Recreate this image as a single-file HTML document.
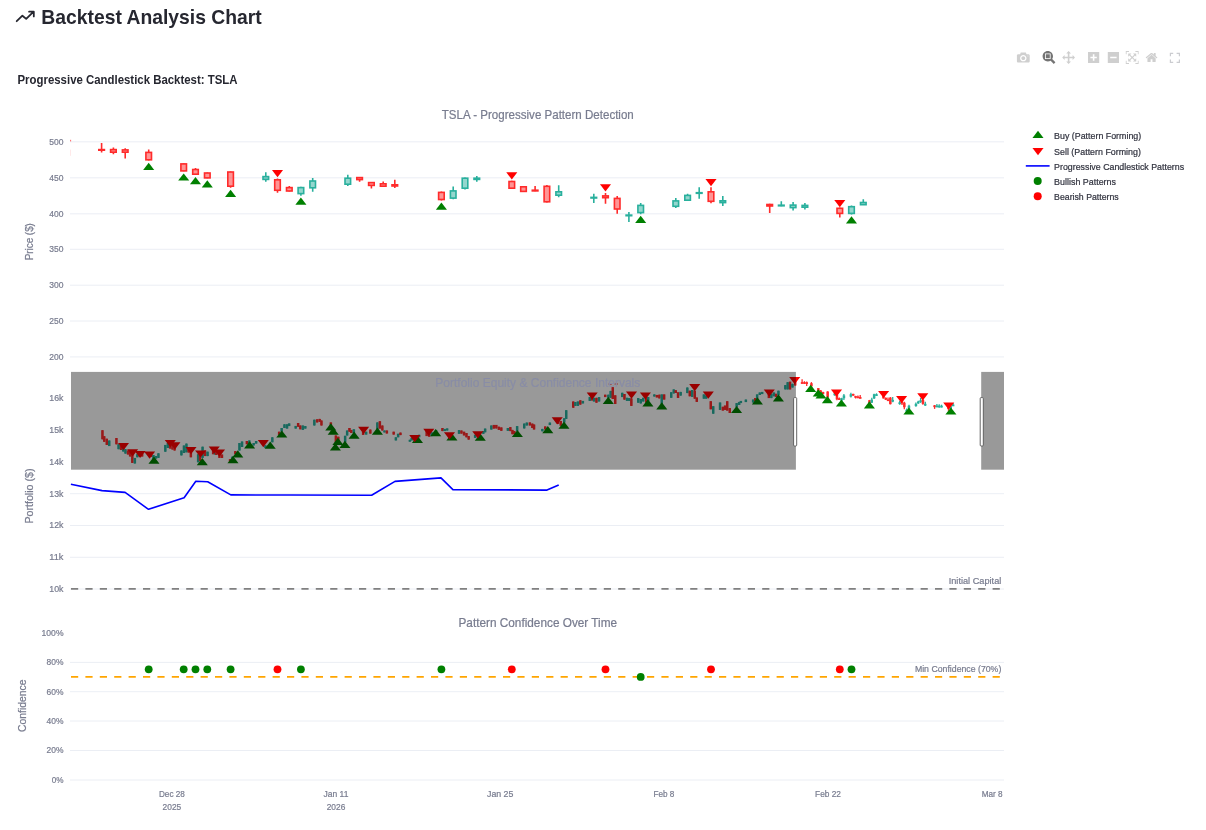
<!DOCTYPE html>
<html lang="en"><head><meta charset="utf-8"><title>Backtest Analysis Chart</title>
<style>html,body{margin:0;padding:0;background:#fff}body{width:1206px;height:830px;overflow:hidden}svg{display:block}</style>
</head><body>
<svg width="1206" height="830" viewBox="0 0 1206 830" font-family='"Liberation Sans", sans-serif'>
<rect width="1206" height="830" fill="#fff"/>
<path d="M16.7,21.2L22.4,15.7L26.2,18.9L33.3,11.9M29.1,11.7H33.8V16.4" fill="none" stroke="#262730" stroke-width="1.8" stroke-linecap="round" stroke-linejoin="round"/>
<text x="41.3" y="23.7" font-size="21" fill="#262730" textLength="220.5" lengthAdjust="spacingAndGlyphs" font-weight="bold">Backtest Analysis Chart</text>
<text x="17.5" y="83.9" font-size="12.2" fill="#262730" textLength="220" lengthAdjust="spacingAndGlyphs" font-weight="bold">Progressive Candlestick Backtest: TSLA</text>
<path d="M70.0,141.80H1004.0" stroke="#e6eaf1" stroke-width="0.8"/>
<path d="M70.0,177.80H1004.0" stroke="#e6eaf1" stroke-width="0.8"/>
<path d="M70.0,213.80H1004.0" stroke="#e6eaf1" stroke-width="0.8"/>
<path d="M70.0,249.30H1004.0" stroke="#e6eaf1" stroke-width="0.8"/>
<path d="M70.0,285.20H1004.0" stroke="#e6eaf1" stroke-width="0.8"/>
<path d="M70.0,321.00H1004.0" stroke="#e6eaf1" stroke-width="0.8"/>
<path d="M70.0,356.90H1004.0" stroke="#e6eaf1" stroke-width="0.8"/>
<path d="M70.0,493.70H1004.0" stroke="#e6eaf1" stroke-width="0.8"/>
<path d="M70.0,525.50H1004.0" stroke="#e6eaf1" stroke-width="0.8"/>
<path d="M70.0,557.30H1004.0" stroke="#e6eaf1" stroke-width="0.8"/>
<path d="M70.0,589.00H1004.0" stroke="#e6eaf1" stroke-width="0.8"/>
<path d="M70.0,662.40H1004.0" stroke="#e6eaf1" stroke-width="0.8"/>
<path d="M70.0,691.70H1004.0" stroke="#e6eaf1" stroke-width="0.8"/>
<path d="M70.0,721.00H1004.0" stroke="#e6eaf1" stroke-width="0.8"/>
<path d="M70.0,750.50H1004.0" stroke="#e6eaf1" stroke-width="0.8"/>
<path d="M70.0,780.00H1004.0" stroke="#e6eaf1" stroke-width="0.8"/>
<text x="63.5" y="144.6" font-size="9.3" fill="#787c8f" stroke="#787c8f" stroke-width="0.22" text-anchor="end" textLength="14.2" lengthAdjust="spacingAndGlyphs">500</text>
<text x="63.5" y="180.6" font-size="9.3" fill="#787c8f" stroke="#787c8f" stroke-width="0.22" text-anchor="end" textLength="14.2" lengthAdjust="spacingAndGlyphs">450</text>
<text x="63.5" y="216.6" font-size="9.3" fill="#787c8f" stroke="#787c8f" stroke-width="0.22" text-anchor="end" textLength="14.2" lengthAdjust="spacingAndGlyphs">400</text>
<text x="63.5" y="252.1" font-size="9.3" fill="#787c8f" stroke="#787c8f" stroke-width="0.22" text-anchor="end" textLength="14.2" lengthAdjust="spacingAndGlyphs">350</text>
<text x="63.5" y="288.0" font-size="9.3" fill="#787c8f" stroke="#787c8f" stroke-width="0.22" text-anchor="end" textLength="14.2" lengthAdjust="spacingAndGlyphs">300</text>
<text x="63.5" y="323.8" font-size="9.3" fill="#787c8f" stroke="#787c8f" stroke-width="0.22" text-anchor="end" textLength="14.2" lengthAdjust="spacingAndGlyphs">250</text>
<text x="63.5" y="359.7" font-size="9.3" fill="#787c8f" stroke="#787c8f" stroke-width="0.22" text-anchor="end" textLength="14.2" lengthAdjust="spacingAndGlyphs">200</text>
<text x="63.5" y="400.9" font-size="9.3" fill="#787c8f" stroke="#787c8f" stroke-width="0.22" text-anchor="end" textLength="14.2" lengthAdjust="spacingAndGlyphs">16k</text>
<text x="63.5" y="432.7" font-size="9.3" fill="#787c8f" stroke="#787c8f" stroke-width="0.22" text-anchor="end" textLength="14.2" lengthAdjust="spacingAndGlyphs">15k</text>
<text x="63.5" y="464.5" font-size="9.3" fill="#787c8f" stroke="#787c8f" stroke-width="0.22" text-anchor="end" textLength="14.2" lengthAdjust="spacingAndGlyphs">14k</text>
<text x="63.5" y="496.5" font-size="9.3" fill="#787c8f" stroke="#787c8f" stroke-width="0.22" text-anchor="end" textLength="14.2" lengthAdjust="spacingAndGlyphs">13k</text>
<text x="63.5" y="528.3" font-size="9.3" fill="#787c8f" stroke="#787c8f" stroke-width="0.22" text-anchor="end" textLength="14.2" lengthAdjust="spacingAndGlyphs">12k</text>
<text x="63.5" y="560.1" font-size="9.3" fill="#787c8f" stroke="#787c8f" stroke-width="0.22" text-anchor="end" textLength="14.2" lengthAdjust="spacingAndGlyphs">11k</text>
<text x="63.5" y="591.8" font-size="9.3" fill="#787c8f" stroke="#787c8f" stroke-width="0.22" text-anchor="end" textLength="14.2" lengthAdjust="spacingAndGlyphs">10k</text>
<text x="63.5" y="635.9" font-size="9.3" fill="#787c8f" stroke="#787c8f" stroke-width="0.22" text-anchor="end" textLength="21.9" lengthAdjust="spacingAndGlyphs">100%</text>
<text x="63.5" y="665.2" font-size="9.3" fill="#787c8f" stroke="#787c8f" stroke-width="0.22" text-anchor="end" textLength="16.9" lengthAdjust="spacingAndGlyphs">80%</text>
<text x="63.5" y="694.5" font-size="9.3" fill="#787c8f" stroke="#787c8f" stroke-width="0.22" text-anchor="end" textLength="16.9" lengthAdjust="spacingAndGlyphs">60%</text>
<text x="63.5" y="723.8" font-size="9.3" fill="#787c8f" stroke="#787c8f" stroke-width="0.22" text-anchor="end" textLength="16.9" lengthAdjust="spacingAndGlyphs">40%</text>
<text x="63.5" y="753.3" font-size="9.3" fill="#787c8f" stroke="#787c8f" stroke-width="0.22" text-anchor="end" textLength="16.9" lengthAdjust="spacingAndGlyphs">20%</text>
<text x="63.5" y="782.8" font-size="9.3" fill="#787c8f" stroke="#787c8f" stroke-width="0.22" text-anchor="end" textLength="11.8" lengthAdjust="spacingAndGlyphs">0%</text>
<text x="171.9" y="797.0" font-size="9.3" fill="#787c8f" stroke="#787c8f" stroke-width="0.22" text-anchor="middle" textLength="25.9" lengthAdjust="spacingAndGlyphs">Dec 28</text>
<text x="171.9" y="809.6" font-size="9.3" fill="#787c8f" stroke="#787c8f" stroke-width="0.22" text-anchor="middle" textLength="18.6" lengthAdjust="spacingAndGlyphs">2025</text>
<text x="336.0" y="797.0" font-size="9.3" fill="#787c8f" stroke="#787c8f" stroke-width="0.22" text-anchor="middle" textLength="24.9" lengthAdjust="spacingAndGlyphs">Jan 11</text>
<text x="336.0" y="809.6" font-size="9.3" fill="#787c8f" stroke="#787c8f" stroke-width="0.22" text-anchor="middle" textLength="18.6" lengthAdjust="spacingAndGlyphs">2026</text>
<text x="500.2" y="797.0" font-size="9.3" fill="#787c8f" stroke="#787c8f" stroke-width="0.22" text-anchor="middle" textLength="26.4" lengthAdjust="spacingAndGlyphs">Jan 25</text>
<text x="663.9" y="797.0" font-size="9.3" fill="#787c8f" stroke="#787c8f" stroke-width="0.22" text-anchor="middle" textLength="21.0" lengthAdjust="spacingAndGlyphs">Feb 8</text>
<text x="828.0" y="797.0" font-size="9.3" fill="#787c8f" stroke="#787c8f" stroke-width="0.22" text-anchor="middle" textLength="25.9" lengthAdjust="spacingAndGlyphs">Feb 22</text>
<text x="992.2" y="797.0" font-size="9.3" fill="#787c8f" stroke="#787c8f" stroke-width="0.22" text-anchor="middle" textLength="20.9" lengthAdjust="spacingAndGlyphs">Mar 8</text>
<text x="33.2" y="241.7" font-size="10.8" fill="#787c8f" stroke="#787c8f" stroke-width="0.22" text-anchor="middle" textLength="37.2" lengthAdjust="spacingAndGlyphs" transform="rotate(-90 33.2 241.7)">Price ($)</text>
<text x="33.2" y="496.0" font-size="10.8" fill="#787c8f" stroke="#787c8f" stroke-width="0.22" text-anchor="middle" textLength="55" lengthAdjust="spacingAndGlyphs" transform="rotate(-90 33.2 496.0)">Portfolio ($)</text>
<text x="25.6" y="705.8" font-size="10.8" fill="#787c8f" stroke="#787c8f" stroke-width="0.22" text-anchor="middle" textLength="52.4" lengthAdjust="spacingAndGlyphs" transform="rotate(-90 25.6 705.8)">Confidence</text>
<text x="441.8" y="118.6" font-size="12.2" fill="#787c8f" stroke="#787c8f" stroke-width="0.22" textLength="192" lengthAdjust="spacingAndGlyphs">TSLA - Progressive Pattern Detection</text>
<text x="458.5" y="627.0" font-size="12.2" fill="#787c8f" stroke="#787c8f" stroke-width="0.22" textLength="158.6" lengthAdjust="spacingAndGlyphs">Pattern Confidence Over Time</text>
<g>
<rect x="70.2" y="139.8" width="0.9" height="1.6" fill="#FF2B2B" opacity="0.8"/><rect x="70.2" y="149.6" width="0.7" height="6.2" fill="#FF2B2B" opacity="0.15"/>
<path d="M101.60,142.90V149.60M101.60,150.20V152.50" stroke="#FF2B2B" stroke-width="1.6"/><rect x="98.80" y="149.60" width="5.60" height="0.60" fill="#FF2B2B" fill-opacity="0.5" stroke="#FF2B2B" stroke-width="1.6"/>
<path d="M113.40,147.60V149.60M113.40,152.20V154.20" stroke="#FF2B2B" stroke-width="1.6"/><rect x="110.60" y="149.60" width="5.60" height="2.60" fill="#FF2B2B" fill-opacity="0.5" stroke="#FF2B2B" stroke-width="1.6"/>
<path d="M125.20,148.20V149.90M125.20,152.20V158.60" stroke="#FF2B2B" stroke-width="1.6"/><rect x="122.40" y="149.90" width="5.60" height="2.30" fill="#FF2B2B" fill-opacity="0.5" stroke="#FF2B2B" stroke-width="1.6"/>
<path d="M148.70,149.60V152.40M148.70,159.80V160.60" stroke="#FF2B2B" stroke-width="1.6"/><rect x="145.90" y="152.40" width="5.60" height="7.40" fill="#FF2B2B" fill-opacity="0.5" stroke="#FF2B2B" stroke-width="1.6"/>
<path d="M183.70,163.40V163.90M183.70,170.90V171.30" stroke="#FF2B2B" stroke-width="1.6"/><rect x="180.90" y="163.90" width="5.60" height="7.00" fill="#FF2B2B" fill-opacity="0.5" stroke="#FF2B2B" stroke-width="1.6"/>
<path d="M195.50,168.10V169.50M195.50,174.20V174.60" stroke="#FF2B2B" stroke-width="1.6"/><rect x="192.70" y="169.50" width="5.60" height="4.70" fill="#FF2B2B" fill-opacity="0.5" stroke="#FF2B2B" stroke-width="1.6"/>
<path d="M207.30,172.40V173.00M207.30,177.90V178.30" stroke="#FF2B2B" stroke-width="1.6"/><rect x="204.50" y="173.00" width="5.60" height="4.90" fill="#FF2B2B" fill-opacity="0.5" stroke="#FF2B2B" stroke-width="1.6"/>
<path d="M230.60,171.40V172.00M230.60,186.20V187.70" stroke="#FF2B2B" stroke-width="1.6"/><rect x="227.80" y="172.00" width="5.60" height="14.20" fill="#FF2B2B" fill-opacity="0.5" stroke="#FF2B2B" stroke-width="1.6"/>
<path d="M265.80,172.30V176.60M265.80,179.40V181.70" stroke="#29B09D" stroke-width="1.6"/><rect x="263.00" y="176.60" width="5.60" height="2.80" fill="#29B09D" fill-opacity="0.5" stroke="#29B09D" stroke-width="1.6"/>
<path d="M277.50,178.40V179.80M277.50,190.30V192.70" stroke="#FF2B2B" stroke-width="1.6"/><rect x="274.70" y="179.80" width="5.60" height="10.50" fill="#FF2B2B" fill-opacity="0.5" stroke="#FF2B2B" stroke-width="1.6"/>
<path d="M289.30,186.00V187.60M289.30,191.00V191.40" stroke="#FF2B2B" stroke-width="1.6"/><rect x="286.50" y="187.60" width="5.60" height="3.40" fill="#FF2B2B" fill-opacity="0.5" stroke="#FF2B2B" stroke-width="1.6"/>
<path d="M300.90,186.80V187.60M300.90,193.60V195.80" stroke="#29B09D" stroke-width="1.6"/><rect x="298.10" y="187.60" width="5.60" height="6.00" fill="#29B09D" fill-opacity="0.5" stroke="#29B09D" stroke-width="1.6"/>
<path d="M312.70,178.10V181.00M312.70,187.80V191.70" stroke="#29B09D" stroke-width="1.6"/><rect x="309.90" y="181.00" width="5.60" height="6.80" fill="#29B09D" fill-opacity="0.5" stroke="#29B09D" stroke-width="1.6"/>
<path d="M347.80,174.80V178.20M347.80,184.20V186.00" stroke="#29B09D" stroke-width="1.6"/><rect x="345.00" y="178.20" width="5.60" height="6.00" fill="#29B09D" fill-opacity="0.5" stroke="#29B09D" stroke-width="1.6"/>
<path d="M359.60,177.00V177.60M359.60,179.60V181.70" stroke="#FF2B2B" stroke-width="1.6"/><rect x="356.80" y="177.60" width="5.60" height="2.00" fill="#FF2B2B" fill-opacity="0.5" stroke="#FF2B2B" stroke-width="1.6"/>
<path d="M371.40,182.00V182.60M371.40,185.40V188.50" stroke="#FF2B2B" stroke-width="1.6"/><rect x="368.60" y="182.60" width="5.60" height="2.80" fill="#FF2B2B" fill-opacity="0.5" stroke="#FF2B2B" stroke-width="1.6"/>
<path d="M383.20,181.40V183.80M383.20,186.20V186.60" stroke="#FF2B2B" stroke-width="1.6"/><rect x="380.40" y="183.80" width="5.60" height="2.40" fill="#FF2B2B" fill-opacity="0.5" stroke="#FF2B2B" stroke-width="1.6"/>
<path d="M394.80,179.80V184.80M394.80,186.00V188.00" stroke="#FF2B2B" stroke-width="1.6"/><rect x="392.00" y="184.80" width="5.60" height="1.20" fill="#FF2B2B" fill-opacity="0.5" stroke="#FF2B2B" stroke-width="1.6"/>
<path d="M441.40,191.60V192.40M441.40,199.50V200.40" stroke="#FF2B2B" stroke-width="1.6"/><rect x="438.60" y="192.40" width="5.60" height="7.10" fill="#FF2B2B" fill-opacity="0.5" stroke="#FF2B2B" stroke-width="1.6"/>
<path d="M453.20,186.40V190.90M453.20,198.10V199.20" stroke="#29B09D" stroke-width="1.6"/><rect x="450.40" y="190.90" width="5.60" height="7.20" fill="#29B09D" fill-opacity="0.5" stroke="#29B09D" stroke-width="1.6"/>
<path d="M465.00,177.40V178.20M465.00,188.20V189.40" stroke="#29B09D" stroke-width="1.6"/><rect x="462.20" y="178.20" width="5.60" height="10.00" fill="#29B09D" fill-opacity="0.5" stroke="#29B09D" stroke-width="1.6"/>
<path d="M476.80,176.10V178.20M476.80,179.40V181.70" stroke="#29B09D" stroke-width="1.6"/><rect x="474.00" y="178.20" width="5.60" height="1.20" fill="#29B09D" fill-opacity="0.5" stroke="#29B09D" stroke-width="1.6"/>
<path d="M511.80,180.70V181.50M511.80,188.20V188.60" stroke="#FF2B2B" stroke-width="1.6"/><rect x="509.00" y="181.50" width="5.60" height="6.70" fill="#FF2B2B" fill-opacity="0.5" stroke="#FF2B2B" stroke-width="1.6"/>
<path d="M523.50,186.00V186.80M523.50,191.40V191.80" stroke="#FF2B2B" stroke-width="1.6"/><rect x="520.70" y="186.80" width="5.60" height="4.60" fill="#FF2B2B" fill-opacity="0.5" stroke="#FF2B2B" stroke-width="1.6"/>
<path d="M535.10,186.10V190.20M535.10,190.90V191.30" stroke="#FF2B2B" stroke-width="1.6"/><rect x="532.30" y="190.20" width="5.60" height="0.70" fill="#FF2B2B" fill-opacity="0.5" stroke="#FF2B2B" stroke-width="1.6"/>
<path d="M546.90,185.00V186.30M546.90,201.80V202.40" stroke="#FF2B2B" stroke-width="1.6"/><rect x="544.10" y="186.30" width="5.60" height="15.50" fill="#FF2B2B" fill-opacity="0.5" stroke="#FF2B2B" stroke-width="1.6"/>
<path d="M558.70,185.20V191.80M558.70,195.20V197.20" stroke="#29B09D" stroke-width="1.6"/><rect x="555.90" y="191.80" width="5.60" height="3.40" fill="#29B09D" fill-opacity="0.5" stroke="#29B09D" stroke-width="1.6"/>
<path d="M593.80,193.80V197.40M593.80,198.00V203.00" stroke="#29B09D" stroke-width="1.6"/><rect x="591.00" y="197.40" width="5.60" height="0.60" fill="#29B09D" fill-opacity="0.5" stroke="#29B09D" stroke-width="1.6"/>
<path d="M605.50,193.00V195.90M605.50,197.70V203.80" stroke="#FF2B2B" stroke-width="1.6"/><rect x="602.70" y="195.90" width="5.60" height="1.80" fill="#FF2B2B" fill-opacity="0.5" stroke="#FF2B2B" stroke-width="1.6"/>
<path d="M617.20,196.00V198.40M617.20,209.00V213.70" stroke="#FF2B2B" stroke-width="1.6"/><rect x="614.40" y="198.40" width="5.60" height="10.60" fill="#FF2B2B" fill-opacity="0.5" stroke="#FF2B2B" stroke-width="1.6"/>
<path d="M628.90,212.10V215.10M628.90,215.70V222.00" stroke="#29B09D" stroke-width="1.6"/><rect x="626.10" y="215.10" width="5.60" height="0.60" fill="#29B09D" fill-opacity="0.5" stroke="#29B09D" stroke-width="1.6"/>
<path d="M640.70,203.00V205.40M640.70,212.60V214.20" stroke="#29B09D" stroke-width="1.6"/><rect x="637.90" y="205.40" width="5.60" height="7.20" fill="#29B09D" fill-opacity="0.5" stroke="#29B09D" stroke-width="1.6"/>
<path d="M675.80,198.00V200.90M675.80,206.30V208.00" stroke="#29B09D" stroke-width="1.6"/><rect x="673.00" y="200.90" width="5.60" height="5.40" fill="#29B09D" fill-opacity="0.5" stroke="#29B09D" stroke-width="1.6"/>
<path d="M687.60,193.80V195.40M687.60,200.20V200.60" stroke="#29B09D" stroke-width="1.6"/><rect x="684.80" y="195.40" width="5.60" height="4.80" fill="#29B09D" fill-opacity="0.5" stroke="#29B09D" stroke-width="1.6"/>
<path d="M699.20,187.20V192.70M699.20,193.30V198.80" stroke="#29B09D" stroke-width="1.6"/><rect x="696.40" y="192.70" width="5.60" height="0.60" fill="#29B09D" fill-opacity="0.5" stroke="#29B09D" stroke-width="1.6"/>
<path d="M711.00,187.20V191.80M711.00,201.30V203.30" stroke="#FF2B2B" stroke-width="1.6"/><rect x="708.20" y="191.80" width="5.60" height="9.50" fill="#FF2B2B" fill-opacity="0.5" stroke="#FF2B2B" stroke-width="1.6"/>
<path d="M722.80,196.00V200.80M722.80,202.60V206.00" stroke="#29B09D" stroke-width="1.6"/><rect x="720.00" y="200.80" width="5.60" height="1.80" fill="#29B09D" fill-opacity="0.5" stroke="#29B09D" stroke-width="1.6"/>
<path d="M769.70,203.80V204.50M769.70,206.00V212.90" stroke="#FF2B2B" stroke-width="1.6"/><rect x="766.90" y="204.50" width="5.60" height="1.50" fill="#FF2B2B" fill-opacity="0.5" stroke="#FF2B2B" stroke-width="1.6"/>
<path d="M781.30,201.30V205.20M781.30,205.80V206.20" stroke="#29B09D" stroke-width="1.6"/><rect x="778.50" y="205.20" width="5.60" height="0.60" fill="#29B09D" fill-opacity="0.5" stroke="#29B09D" stroke-width="1.6"/>
<path d="M793.10,202.10V205.10M793.10,207.60V210.40" stroke="#29B09D" stroke-width="1.6"/><rect x="790.30" y="205.10" width="5.60" height="2.50" fill="#29B09D" fill-opacity="0.5" stroke="#29B09D" stroke-width="1.6"/>
<path d="M804.90,203.00V205.40M804.90,207.20V209.60" stroke="#29B09D" stroke-width="1.6"/><rect x="802.10" y="205.40" width="5.60" height="1.80" fill="#29B09D" fill-opacity="0.5" stroke="#29B09D" stroke-width="1.6"/>
<path d="M839.80,207.50V208.30M839.80,213.40V217.60" stroke="#FF2B2B" stroke-width="1.6"/><rect x="837.00" y="208.30" width="5.60" height="5.10" fill="#FF2B2B" fill-opacity="0.5" stroke="#FF2B2B" stroke-width="1.6"/>
<path d="M851.50,205.40V206.70M851.50,213.40V214.60" stroke="#29B09D" stroke-width="1.6"/><rect x="848.70" y="206.70" width="5.60" height="6.70" fill="#29B09D" fill-opacity="0.5" stroke="#29B09D" stroke-width="1.6"/>
<path d="M863.30,199.30V202.50M863.30,204.70V205.10" stroke="#29B09D" stroke-width="1.6"/><rect x="860.50" y="202.50" width="5.60" height="2.20" fill="#29B09D" fill-opacity="0.5" stroke="#29B09D" stroke-width="1.6"/>
<path d="M143.16,170.00H154.24L148.70,162.80Z" fill="#008000"/>
<path d="M178.16,180.60H189.24L183.70,173.40Z" fill="#008000"/>
<path d="M189.96,184.20H201.04L195.50,177.00Z" fill="#008000"/>
<path d="M201.76,187.40H212.84L207.30,180.20Z" fill="#008000"/>
<path d="M225.06,196.90H236.14L230.60,189.70Z" fill="#008000"/>
<path d="M295.36,204.70H306.44L300.90,197.50Z" fill="#008000"/>
<path d="M435.86,209.80H446.94L441.40,202.60Z" fill="#008000"/>
<path d="M635.16,222.90H646.24L640.70,215.70Z" fill="#008000"/>
<path d="M845.96,223.40H857.04L851.50,216.20Z" fill="#008000"/>
<path d="M271.96,170.00H283.04L277.50,177.20Z" fill="#FF0000"/>
<path d="M506.26,172.30H517.34L511.80,179.50Z" fill="#FF0000"/>
<path d="M599.96,184.20H611.04L605.50,191.40Z" fill="#FF0000"/>
<path d="M705.46,179.10H716.54L711.00,186.30Z" fill="#FF0000"/>
<path d="M834.26,200.00H845.34L839.80,207.20Z" fill="#FF0000"/>
</g>
<rect x="71.0" y="371.9" width="933.0" height="97.8" fill="#fff"/>
<g>
<path d="M102.5,430.2V439.3" stroke="#FF2B2B" stroke-width="1.3"/><rect x="101.2" y="430.2" width="2.5" height="9.1" fill="#FF2B2B"/>
<path d="M104.3,436.2V441.8" stroke="#FF2B2B" stroke-width="1.3"/><rect x="103.0" y="436.2" width="2.5" height="5.6" fill="#FF2B2B"/>
<path d="M106.8,438.7V444.9" stroke="#FF2B2B" stroke-width="1.3"/><rect x="105.5" y="438.7" width="2.5" height="6.2" fill="#FF2B2B"/>
<path d="M109.3,440.5V446.1" stroke="#29B09D" stroke-width="1.3"/><rect x="108.0" y="440.5" width="2.5" height="5.6" fill="#29B09D"/>
<path d="M116.4,438.0V444.3" stroke="#FF2B2B" stroke-width="1.3"/><rect x="115.2" y="438.0" width="2.5" height="6.3" fill="#FF2B2B"/>
<path d="M118.6,444.3V449.2" stroke="#29B09D" stroke-width="1.3"/><rect x="117.3" y="444.3" width="2.5" height="4.9" fill="#29B09D"/>
<path d="M121.0,446.0V450.0" stroke="#FF2B2B" stroke-width="1.3"/><rect x="119.8" y="446.0" width="2.5" height="4.0" fill="#FF2B2B"/>
<path d="M123.3,447.5V451.5" stroke="#29B09D" stroke-width="1.3"/><rect x="122.0" y="447.5" width="2.5" height="4.0" fill="#29B09D"/>
<path d="M125.5,449.2V453.6" stroke="#29B09D" stroke-width="1.3"/><rect x="124.2" y="449.2" width="2.5" height="4.4" fill="#29B09D"/>
<path d="M128.0,450.5V454.5" stroke="#FF2B2B" stroke-width="1.3"/><rect x="126.8" y="450.5" width="2.5" height="4.0" fill="#FF2B2B"/>
<path d="M130.2,452.0V456.5" stroke="#FF2B2B" stroke-width="1.3"/><rect x="128.9" y="452.0" width="2.5" height="4.5" fill="#FF2B2B"/>
<path d="M132.3,453.0V462.9" stroke="#FF2B2B" stroke-width="1.3"/><rect x="131.1" y="453.0" width="2.5" height="9.9" fill="#FF2B2B"/>
<path d="M134.8,457.9V463.5" stroke="#29B09D" stroke-width="1.3"/><rect x="133.6" y="457.9" width="2.5" height="5.6" fill="#29B09D"/>
<path d="M137.3,454.2V457.3" stroke="#29B09D" stroke-width="1.3"/><rect x="136.1" y="454.2" width="2.5" height="3.1" fill="#29B09D"/>
<path d="M139.8,452.5V456.5" stroke="#FF2B2B" stroke-width="1.3"/><rect x="138.6" y="452.5" width="2.5" height="4.0" fill="#FF2B2B"/>
<path d="M142.2,453.5V456.5" stroke="#FF2B2B" stroke-width="1.3"/><rect x="140.9" y="453.5" width="2.5" height="3.0" fill="#FF2B2B"/>
<path d="M151.0,453.5V457.0" stroke="#FF2B2B" stroke-width="1.3"/><rect x="149.8" y="453.5" width="2.5" height="3.5" fill="#FF2B2B"/>
<path d="M153.5,455.0V459.0" stroke="#29B09D" stroke-width="1.3"/><rect x="152.2" y="455.0" width="2.5" height="4.0" fill="#29B09D"/>
<path d="M156.0,456.0V458.6" stroke="#29B09D" stroke-width="1.3"/><rect x="154.8" y="456.0" width="2.5" height="2.6" fill="#29B09D"/>
<path d="M158.4,453.3V457.9" stroke="#29B09D" stroke-width="1.3"/><rect x="157.2" y="453.3" width="2.5" height="4.6" fill="#29B09D"/>
<path d="M165.3,444.9V451.7" stroke="#29B09D" stroke-width="1.3"/><rect x="164.1" y="444.9" width="2.5" height="6.8" fill="#29B09D"/>
<path d="M167.8,443.0V448.0" stroke="#29B09D" stroke-width="1.3"/><rect x="166.6" y="443.0" width="2.5" height="5.0" fill="#29B09D"/>
<path d="M170.2,444.3V448.6" stroke="#FF2B2B" stroke-width="1.3"/><rect x="168.9" y="444.3" width="2.5" height="4.3" fill="#FF2B2B"/>
<path d="M172.4,445.0V449.5" stroke="#FF2B2B" stroke-width="1.3"/><rect x="171.2" y="445.0" width="2.5" height="4.5" fill="#FF2B2B"/>
<path d="M174.6,446.1V450.5" stroke="#FF2B2B" stroke-width="1.3"/><rect x="173.3" y="446.1" width="2.5" height="4.4" fill="#FF2B2B"/>
<path d="M181.4,450.5V455.4" stroke="#29B09D" stroke-width="1.3"/><rect x="180.2" y="450.5" width="2.5" height="4.9" fill="#29B09D"/>
<path d="M183.9,445.5V453.0" stroke="#29B09D" stroke-width="1.3"/><rect x="182.7" y="445.5" width="2.5" height="7.5" fill="#29B09D"/>
<path d="M186.4,443.6V452.3" stroke="#29B09D" stroke-width="1.3"/><rect x="185.2" y="443.6" width="2.5" height="8.7" fill="#29B09D"/>
<path d="M188.6,447.5V452.5" stroke="#FF2B2B" stroke-width="1.3"/><rect x="187.3" y="447.5" width="2.5" height="5.0" fill="#FF2B2B"/>
<path d="M190.8,451.1V457.3" stroke="#FF2B2B" stroke-width="1.3"/><rect x="189.6" y="451.1" width="2.5" height="6.2" fill="#FF2B2B"/>
<path d="M198.2,454.2V462.3" stroke="#29B09D" stroke-width="1.3"/><rect x="196.9" y="454.2" width="2.5" height="8.1" fill="#29B09D"/>
<path d="M200.1,453.6V461.0" stroke="#FF2B2B" stroke-width="1.3"/><rect x="198.8" y="453.6" width="2.5" height="7.4" fill="#FF2B2B"/>
<path d="M202.6,446.7V457.9" stroke="#29B09D" stroke-width="1.3"/><rect x="201.3" y="446.7" width="2.5" height="11.2" fill="#29B09D"/>
<path d="M205.1,450.5V456.1" stroke="#FF2B2B" stroke-width="1.3"/><rect x="203.8" y="450.5" width="2.5" height="5.6" fill="#FF2B2B"/>
<path d="M207.6,451.7V456.1" stroke="#29B09D" stroke-width="1.3"/><rect x="206.3" y="451.7" width="2.5" height="4.4" fill="#29B09D"/>
<path d="M213.2,450.5V454.2" stroke="#FF2B2B" stroke-width="1.3"/><rect x="211.9" y="450.5" width="2.5" height="3.7" fill="#FF2B2B"/>
<path d="M215.0,451.0V454.5" stroke="#29B09D" stroke-width="1.3"/><rect x="213.8" y="451.0" width="2.5" height="3.5" fill="#29B09D"/>
<path d="M216.3,451.5V455.0" stroke="#FF2B2B" stroke-width="1.3"/><rect x="215.1" y="451.5" width="2.5" height="3.5" fill="#FF2B2B"/>
<path d="M219.4,454.2V457.9" stroke="#FF2B2B" stroke-width="1.3"/><rect x="218.2" y="454.2" width="2.5" height="3.7" fill="#FF2B2B"/>
<path d="M221.9,454.5V458.0" stroke="#FF2B2B" stroke-width="1.3"/><rect x="220.7" y="454.5" width="2.5" height="3.5" fill="#FF2B2B"/>
<path d="M230.0,459.2V461.7" stroke="#FF2B2B" stroke-width="1.3"/><rect x="228.8" y="459.2" width="2.5" height="2.5" fill="#FF2B2B"/>
<path d="M232.4,456.7V458.6" stroke="#29B09D" stroke-width="1.3"/><rect x="231.2" y="456.7" width="2.5" height="1.9" fill="#29B09D"/>
<path d="M235.3,451.1V454.2" stroke="#FF2B2B" stroke-width="1.3"/><rect x="234.1" y="451.1" width="2.5" height="3.1" fill="#FF2B2B"/>
<path d="M239.5,443.0V450.5" stroke="#29B09D" stroke-width="1.3"/><rect x="238.2" y="443.0" width="2.5" height="7.5" fill="#29B09D"/>
<path d="M242.0,441.5V447.0" stroke="#29B09D" stroke-width="1.3"/><rect x="240.8" y="441.5" width="2.5" height="5.5" fill="#29B09D"/>
<path d="M246.8,441.0V444.2" stroke="#FF2B2B" stroke-width="1.3"/><rect x="245.6" y="441.0" width="2.5" height="3.2" fill="#FF2B2B"/>
<path d="M249.3,440.4V443.0" stroke="#29B09D" stroke-width="1.3"/><rect x="248.1" y="440.4" width="2.5" height="2.6" fill="#29B09D"/>
<path d="M253.7,443.0V445.4" stroke="#29B09D" stroke-width="1.3"/><rect x="252.4" y="443.0" width="2.5" height="2.4" fill="#29B09D"/>
<path d="M256.2,441.0V443.6" stroke="#29B09D" stroke-width="1.3"/><rect x="254.9" y="441.0" width="2.5" height="2.6" fill="#29B09D"/>
<path d="M265.5,445.4V448.0" stroke="#29B09D" stroke-width="1.3"/><rect x="264.2" y="445.4" width="2.5" height="2.6" fill="#29B09D"/>
<path d="M272.3,437.3V442.3" stroke="#29B09D" stroke-width="1.3"/><rect x="271.1" y="437.3" width="2.5" height="5.0" fill="#29B09D"/>
<path d="M279.2,431.7V434.9" stroke="#FF2B2B" stroke-width="1.3"/><rect x="277.9" y="431.7" width="2.5" height="3.2" fill="#FF2B2B"/>
<path d="M281.7,428.0V431.7" stroke="#29B09D" stroke-width="1.3"/><rect x="280.4" y="428.0" width="2.5" height="3.7" fill="#29B09D"/>
<path d="M284.5,424.3V428.0" stroke="#29B09D" stroke-width="1.3"/><rect x="283.2" y="424.3" width="2.5" height="3.7" fill="#29B09D"/>
<path d="M287.0,424.3V428.6" stroke="#29B09D" stroke-width="1.3"/><rect x="285.8" y="424.3" width="2.5" height="4.3" fill="#29B09D"/>
<path d="M289.1,423.4V426.1" stroke="#29B09D" stroke-width="1.3"/><rect x="287.9" y="423.4" width="2.5" height="2.7" fill="#29B09D"/>
<path d="M295.7,425.9V428.6" stroke="#29B09D" stroke-width="1.3"/><rect x="294.4" y="425.9" width="2.5" height="2.7" fill="#29B09D"/>
<path d="M298.2,423.0V426.8" stroke="#FF2B2B" stroke-width="1.3"/><rect x="296.9" y="423.0" width="2.5" height="3.8" fill="#FF2B2B"/>
<path d="M300.3,425.5V429.3" stroke="#FF2B2B" stroke-width="1.3"/><rect x="299.1" y="425.5" width="2.5" height="3.8" fill="#FF2B2B"/>
<path d="M302.8,425.5V429.9" stroke="#29B09D" stroke-width="1.3"/><rect x="301.6" y="425.5" width="2.5" height="4.4" fill="#29B09D"/>
<path d="M305.3,426.1V428.6" stroke="#29B09D" stroke-width="1.3"/><rect x="304.1" y="426.1" width="2.5" height="2.5" fill="#29B09D"/>
<path d="M314.4,419.7V425.5" stroke="#29B09D" stroke-width="1.3"/><rect x="313.1" y="419.7" width="2.5" height="5.8" fill="#29B09D"/>
<path d="M317.1,419.3V422.4" stroke="#FF2B2B" stroke-width="1.3"/><rect x="315.9" y="419.3" width="2.5" height="3.1" fill="#FF2B2B"/>
<path d="M319.6,418.9V421.8" stroke="#FF2B2B" stroke-width="1.3"/><rect x="318.4" y="418.9" width="2.5" height="2.9" fill="#FF2B2B"/>
<path d="M321.5,420.5V425.5" stroke="#FF2B2B" stroke-width="1.3"/><rect x="320.2" y="420.5" width="2.5" height="5.0" fill="#FF2B2B"/>
<path d="M330.8,422.4V425.5" stroke="#FF2B2B" stroke-width="1.3"/><rect x="329.6" y="422.4" width="2.5" height="3.1" fill="#FF2B2B"/>
<path d="M335.8,435.5V442.3" stroke="#FF2B2B" stroke-width="1.3"/><rect x="334.6" y="435.5" width="2.5" height="6.8" fill="#FF2B2B"/>
<path d="M338.3,436.7V441.1" stroke="#FF2B2B" stroke-width="1.3"/><rect x="337.1" y="436.7" width="2.5" height="4.4" fill="#FF2B2B"/>
<path d="M345.1,435.8V442.3" stroke="#29B09D" stroke-width="1.3"/><rect x="343.9" y="435.8" width="2.5" height="6.5" fill="#29B09D"/>
<path d="M347.2,430.5V435.5" stroke="#29B09D" stroke-width="1.3"/><rect x="345.9" y="430.5" width="2.5" height="5.0" fill="#29B09D"/>
<path d="M349.5,428.0V431.7" stroke="#FF2B2B" stroke-width="1.3"/><rect x="348.2" y="428.0" width="2.5" height="3.7" fill="#FF2B2B"/>
<path d="M351.3,429.9V433.0" stroke="#FF2B2B" stroke-width="1.3"/><rect x="350.1" y="429.9" width="2.5" height="3.1" fill="#FF2B2B"/>
<path d="M353.8,429.3V433.0" stroke="#29B09D" stroke-width="1.3"/><rect x="352.6" y="429.3" width="2.5" height="3.7" fill="#29B09D"/>
<path d="M363.1,431.7V434.9" stroke="#FF2B2B" stroke-width="1.3"/><rect x="361.9" y="431.7" width="2.5" height="3.2" fill="#FF2B2B"/>
<path d="M366.2,431.7V434.6" stroke="#29B09D" stroke-width="1.3"/><rect x="364.9" y="431.7" width="2.5" height="2.9" fill="#29B09D"/>
<path d="M370.3,429.6V433.6" stroke="#FF2B2B" stroke-width="1.3"/><rect x="369.1" y="429.6" width="2.5" height="4.0" fill="#FF2B2B"/>
<path d="M377.4,422.4V429.3" stroke="#29B09D" stroke-width="1.3"/><rect x="376.1" y="422.4" width="2.5" height="6.9" fill="#29B09D"/>
<path d="M379.9,421.2V428.6" stroke="#FF2B2B" stroke-width="1.3"/><rect x="378.6" y="421.2" width="2.5" height="7.4" fill="#FF2B2B"/>
<path d="M382.4,425.5V430.5" stroke="#FF2B2B" stroke-width="1.3"/><rect x="381.1" y="425.5" width="2.5" height="5.0" fill="#FF2B2B"/>
<path d="M384.5,430.5V432.4" stroke="#29B09D" stroke-width="1.3"/><rect x="383.2" y="430.5" width="2.5" height="1.9" fill="#29B09D"/>
<path d="M386.8,430.5V433.5" stroke="#FF2B2B" stroke-width="1.3"/><rect x="385.6" y="430.5" width="2.5" height="3.0" fill="#FF2B2B"/>
<path d="M393.7,431.7V434.6" stroke="#FF2B2B" stroke-width="1.3"/><rect x="392.4" y="431.7" width="2.5" height="2.9" fill="#FF2B2B"/>
<path d="M395.9,437.3V440.4" stroke="#29B09D" stroke-width="1.3"/><rect x="394.6" y="437.3" width="2.5" height="3.1" fill="#29B09D"/>
<path d="M398.1,433.8V437.3" stroke="#29B09D" stroke-width="1.3"/><rect x="396.9" y="433.8" width="2.5" height="3.5" fill="#29B09D"/>
<path d="M400.5,432.6V435.1" stroke="#FF2B2B" stroke-width="1.3"/><rect x="399.2" y="432.6" width="2.5" height="2.5" fill="#FF2B2B"/>
<path d="M409.9,439.8V441.7" stroke="#29B09D" stroke-width="1.3"/><rect x="408.6" y="439.8" width="2.5" height="1.9" fill="#29B09D"/>
<path d="M411.7,437.9V440.4" stroke="#29B09D" stroke-width="1.3"/><rect x="410.4" y="437.9" width="2.5" height="2.5" fill="#29B09D"/>
<path d="M419.2,434.8V437.3" stroke="#29B09D" stroke-width="1.3"/><rect x="417.9" y="434.8" width="2.5" height="2.5" fill="#29B09D"/>
<path d="M426.7,430.5V436.1" stroke="#FF2B2B" stroke-width="1.3"/><rect x="425.4" y="430.5" width="2.5" height="5.6" fill="#FF2B2B"/>
<path d="M429.2,433.0V436.7" stroke="#FF2B2B" stroke-width="1.3"/><rect x="427.9" y="433.0" width="2.5" height="3.7" fill="#FF2B2B"/>
<path d="M431.6,432.3V436.1" stroke="#29B09D" stroke-width="1.3"/><rect x="430.4" y="432.3" width="2.5" height="3.8" fill="#29B09D"/>
<path d="M436.0,429.9V432.3" stroke="#29B09D" stroke-width="1.3"/><rect x="434.8" y="429.9" width="2.5" height="2.4" fill="#29B09D"/>
<path d="M442.5,428.0V431.1" stroke="#FF2B2B" stroke-width="1.3"/><rect x="441.2" y="428.0" width="2.5" height="3.1" fill="#FF2B2B"/>
<path d="M444.7,428.9V431.1" stroke="#29B09D" stroke-width="1.3"/><rect x="443.4" y="428.9" width="2.5" height="2.2" fill="#29B09D"/>
<path d="M447.2,428.4V430.5" stroke="#29B09D" stroke-width="1.3"/><rect x="445.9" y="428.4" width="2.5" height="2.1" fill="#29B09D"/>
<path d="M459.0,430.1V433.8" stroke="#29B09D" stroke-width="1.3"/><rect x="457.8" y="430.1" width="2.5" height="3.7" fill="#29B09D"/>
<path d="M461.5,430.5V433.6" stroke="#FF2B2B" stroke-width="1.3"/><rect x="460.2" y="430.5" width="2.5" height="3.1" fill="#FF2B2B"/>
<path d="M464.0,431.7V435.4" stroke="#FF2B2B" stroke-width="1.3"/><rect x="462.8" y="431.7" width="2.5" height="3.7" fill="#FF2B2B"/>
<path d="M466.5,433.0V437.3" stroke="#FF2B2B" stroke-width="1.3"/><rect x="465.2" y="433.0" width="2.5" height="4.3" fill="#FF2B2B"/>
<path d="M468.6,436.1V439.6" stroke="#FF2B2B" stroke-width="1.3"/><rect x="467.4" y="436.1" width="2.5" height="3.5" fill="#FF2B2B"/>
<path d="M475.2,434.8V437.9" stroke="#29B09D" stroke-width="1.3"/><rect x="473.9" y="434.8" width="2.5" height="3.1" fill="#29B09D"/>
<path d="M483.3,431.1V433.8" stroke="#29B09D" stroke-width="1.3"/><rect x="482.1" y="431.1" width="2.5" height="2.7" fill="#29B09D"/>
<path d="M485.1,428.6V432.3" stroke="#29B09D" stroke-width="1.3"/><rect x="483.9" y="428.6" width="2.5" height="3.7" fill="#29B09D"/>
<path d="M491.3,425.5V429.6" stroke="#29B09D" stroke-width="1.3"/><rect x="490.1" y="425.5" width="2.5" height="4.1" fill="#29B09D"/>
<path d="M493.8,424.9V428.6" stroke="#FF2B2B" stroke-width="1.3"/><rect x="492.6" y="424.9" width="2.5" height="3.7" fill="#FF2B2B"/>
<path d="M496.3,424.9V428.4" stroke="#FF2B2B" stroke-width="1.3"/><rect x="495.1" y="424.9" width="2.5" height="3.5" fill="#FF2B2B"/>
<path d="M498.8,426.7V429.9" stroke="#FF2B2B" stroke-width="1.3"/><rect x="497.6" y="426.7" width="2.5" height="3.2" fill="#FF2B2B"/>
<path d="M501.3,427.4V430.8" stroke="#FF2B2B" stroke-width="1.3"/><rect x="500.1" y="427.4" width="2.5" height="3.4" fill="#FF2B2B"/>
<path d="M507.9,428.0V430.8" stroke="#29B09D" stroke-width="1.3"/><rect x="506.6" y="428.0" width="2.5" height="2.8" fill="#29B09D"/>
<path d="M510.4,427.1V431.1" stroke="#FF2B2B" stroke-width="1.3"/><rect x="509.1" y="427.1" width="2.5" height="4.0" fill="#FF2B2B"/>
<path d="M512.5,429.9V434.2" stroke="#FF2B2B" stroke-width="1.3"/><rect x="511.2" y="429.9" width="2.5" height="4.3" fill="#FF2B2B"/>
<path d="M514.4,431.1V434.2" stroke="#FF2B2B" stroke-width="1.3"/><rect x="513.1" y="431.1" width="2.5" height="3.1" fill="#FF2B2B"/>
<path d="M517.1,426.1V431.1" stroke="#29B09D" stroke-width="1.3"/><rect x="515.9" y="426.1" width="2.5" height="5.0" fill="#29B09D"/>
<path d="M524.3,423.6V428.4" stroke="#29B09D" stroke-width="1.3"/><rect x="523.0" y="423.6" width="2.5" height="4.8" fill="#29B09D"/>
<path d="M526.8,422.6V425.5" stroke="#29B09D" stroke-width="1.3"/><rect x="525.5" y="422.6" width="2.5" height="2.9" fill="#29B09D"/>
<path d="M529.9,422.4V425.5" stroke="#FF2B2B" stroke-width="1.3"/><rect x="528.6" y="422.4" width="2.5" height="3.1" fill="#FF2B2B"/>
<path d="M532.4,423.6V428.0" stroke="#FF2B2B" stroke-width="1.3"/><rect x="531.1" y="423.6" width="2.5" height="4.4" fill="#FF2B2B"/>
<path d="M534.0,424.5V429.5" stroke="#FF2B2B" stroke-width="1.3"/><rect x="532.8" y="424.5" width="2.5" height="5.0" fill="#FF2B2B"/>
<path d="M542.4,428.9V431.3" stroke="#29B09D" stroke-width="1.3"/><rect x="541.1" y="428.9" width="2.5" height="2.4" fill="#29B09D"/>
<path d="M545.2,426.4V429.5" stroke="#FF2B2B" stroke-width="1.3"/><rect x="544.0" y="426.4" width="2.5" height="3.1" fill="#FF2B2B"/>
<path d="M549.9,422.6V425.1" stroke="#29B09D" stroke-width="1.3"/><rect x="548.6" y="422.6" width="2.5" height="2.5" fill="#29B09D"/>
<path d="M558.0,419.5V424.0" stroke="#FF2B2B" stroke-width="1.3"/><rect x="556.8" y="419.5" width="2.5" height="4.5" fill="#FF2B2B"/>
<path d="M560.8,421.0V425.8" stroke="#FF2B2B" stroke-width="1.3"/><rect x="559.5" y="421.0" width="2.5" height="4.8" fill="#FF2B2B"/>
<path d="M564.2,418.3V422.6" stroke="#29B09D" stroke-width="1.3"/><rect x="563.0" y="418.3" width="2.5" height="4.3" fill="#29B09D"/>
<path d="M566.3,410.2V418.9" stroke="#29B09D" stroke-width="1.3"/><rect x="565.0" y="410.2" width="2.5" height="8.7" fill="#29B09D"/>
<path d="M573.3,401.5V407.7" stroke="#FF2B2B" stroke-width="1.3"/><rect x="572.0" y="401.5" width="2.5" height="6.2" fill="#FF2B2B"/>
<path d="M575.4,402.1V405.9" stroke="#29B09D" stroke-width="1.3"/><rect x="574.1" y="402.1" width="2.5" height="3.8" fill="#29B09D"/>
<path d="M577.9,401.5V405.9" stroke="#29B09D" stroke-width="1.3"/><rect x="576.6" y="401.5" width="2.5" height="4.4" fill="#29B09D"/>
<path d="M580.4,400.3V404.6" stroke="#FF2B2B" stroke-width="1.3"/><rect x="579.1" y="400.3" width="2.5" height="4.3" fill="#FF2B2B"/>
<path d="M582.9,400.9V403.4" stroke="#29B09D" stroke-width="1.3"/><rect x="581.6" y="400.9" width="2.5" height="2.5" fill="#29B09D"/>
<path d="M589.7,397.1V400.9" stroke="#29B09D" stroke-width="1.3"/><rect x="588.5" y="397.1" width="2.5" height="3.8" fill="#29B09D"/>
<path d="M592.0,396.5V400.5" stroke="#FF2B2B" stroke-width="1.3"/><rect x="590.8" y="396.5" width="2.5" height="4.0" fill="#FF2B2B"/>
<path d="M594.0,397.8V401.5" stroke="#29B09D" stroke-width="1.3"/><rect x="592.8" y="397.8" width="2.5" height="3.7" fill="#29B09D"/>
<path d="M596.5,397.8V402.7" stroke="#FF2B2B" stroke-width="1.3"/><rect x="595.2" y="397.8" width="2.5" height="4.9" fill="#FF2B2B"/>
<path d="M599.0,397.1V401.5" stroke="#29B09D" stroke-width="1.3"/><rect x="597.8" y="397.1" width="2.5" height="4.4" fill="#29B09D"/>
<path d="M605.2,394.7V397.1" stroke="#FF2B2B" stroke-width="1.3"/><rect x="604.0" y="394.7" width="2.5" height="2.4" fill="#FF2B2B"/>
<path d="M608.4,394.7V397.8" stroke="#29B09D" stroke-width="1.3"/><rect x="607.1" y="394.7" width="2.5" height="3.1" fill="#29B09D"/>
<path d="M610.6,390.9V397.8" stroke="#29B09D" stroke-width="1.3"/><rect x="609.4" y="390.9" width="2.5" height="6.9" fill="#29B09D"/>
<path d="M612.7,387.2V399.0" stroke="#FF2B2B" stroke-width="1.3"/><rect x="611.5" y="387.2" width="2.5" height="11.8" fill="#FF2B2B"/>
<path d="M615.2,395.3V404.0" stroke="#FF2B2B" stroke-width="1.3"/><rect x="614.0" y="395.3" width="2.5" height="8.7" fill="#FF2B2B"/>
<path d="M622.3,392.8V397.1" stroke="#29B09D" stroke-width="1.3"/><rect x="621.0" y="392.8" width="2.5" height="4.3" fill="#29B09D"/>
<path d="M624.5,394.0V399.6" stroke="#FF2B2B" stroke-width="1.3"/><rect x="623.2" y="394.0" width="2.5" height="5.6" fill="#FF2B2B"/>
<path d="M627.0,397.8V400.9" stroke="#29B09D" stroke-width="1.3"/><rect x="625.8" y="397.8" width="2.5" height="3.1" fill="#29B09D"/>
<path d="M629.3,398.1V400.9" stroke="#29B09D" stroke-width="1.3"/><rect x="628.0" y="398.1" width="2.5" height="2.8" fill="#29B09D"/>
<path d="M631.4,398.4V405.9" stroke="#FF2B2B" stroke-width="1.3"/><rect x="630.1" y="398.4" width="2.5" height="7.5" fill="#FF2B2B"/>
<path d="M638.2,398.1V402.7" stroke="#29B09D" stroke-width="1.3"/><rect x="637.0" y="398.1" width="2.5" height="4.6" fill="#29B09D"/>
<path d="M640.7,399.0V403.4" stroke="#29B09D" stroke-width="1.3"/><rect x="639.5" y="399.0" width="2.5" height="4.4" fill="#29B09D"/>
<path d="M643.2,397.8V401.5" stroke="#29B09D" stroke-width="1.3"/><rect x="642.0" y="397.8" width="2.5" height="3.7" fill="#29B09D"/>
<path d="M646.3,397.1V402.7" stroke="#FF2B2B" stroke-width="1.3"/><rect x="645.0" y="397.1" width="2.5" height="5.6" fill="#FF2B2B"/>
<path d="M648.2,397.1V400.9" stroke="#29B09D" stroke-width="1.3"/><rect x="647.0" y="397.1" width="2.5" height="3.8" fill="#29B09D"/>
<path d="M654.4,394.4V396.5" stroke="#29B09D" stroke-width="1.3"/><rect x="653.1" y="394.4" width="2.5" height="2.1" fill="#29B09D"/>
<path d="M656.9,394.9V397.4" stroke="#FF2B2B" stroke-width="1.3"/><rect x="655.6" y="394.9" width="2.5" height="2.5" fill="#FF2B2B"/>
<path d="M659.4,394.7V398.4" stroke="#FF2B2B" stroke-width="1.3"/><rect x="658.1" y="394.7" width="2.5" height="3.7" fill="#FF2B2B"/>
<path d="M661.8,394.4V404.0" stroke="#29B09D" stroke-width="1.3"/><rect x="660.5" y="394.4" width="2.5" height="9.6" fill="#29B09D"/>
<path d="M664.1,394.4V399.6" stroke="#FF2B2B" stroke-width="1.3"/><rect x="662.9" y="394.4" width="2.5" height="5.2" fill="#FF2B2B"/>
<path d="M671.2,392.2V397.8" stroke="#29B09D" stroke-width="1.3"/><rect x="670.0" y="392.2" width="2.5" height="5.6" fill="#29B09D"/>
<path d="M673.7,389.4V393.4" stroke="#29B09D" stroke-width="1.3"/><rect x="672.5" y="389.4" width="2.5" height="4.0" fill="#29B09D"/>
<path d="M675.8,390.2V393.0" stroke="#FF2B2B" stroke-width="1.3"/><rect x="674.5" y="390.2" width="2.5" height="2.8" fill="#FF2B2B"/>
<path d="M678.0,392.3V397.9" stroke="#FF2B2B" stroke-width="1.3"/><rect x="676.8" y="392.3" width="2.5" height="5.6" fill="#FF2B2B"/>
<path d="M680.6,391.9V395.6" stroke="#29B09D" stroke-width="1.3"/><rect x="679.4" y="391.9" width="2.5" height="3.7" fill="#29B09D"/>
<path d="M687.4,387.5V393.1" stroke="#29B09D" stroke-width="1.3"/><rect x="686.1" y="387.5" width="2.5" height="5.6" fill="#29B09D"/>
<path d="M689.7,390.7V396.3" stroke="#FF2B2B" stroke-width="1.3"/><rect x="688.5" y="390.7" width="2.5" height="5.6" fill="#FF2B2B"/>
<path d="M692.2,390.0V396.9" stroke="#29B09D" stroke-width="1.3"/><rect x="691.0" y="390.0" width="2.5" height="6.9" fill="#29B09D"/>
<path d="M694.7,390.7V398.7" stroke="#FF2B2B" stroke-width="1.3"/><rect x="693.5" y="390.7" width="2.5" height="8.0" fill="#FF2B2B"/>
<path d="M696.8,397.5V401.9" stroke="#FF2B2B" stroke-width="1.3"/><rect x="695.5" y="397.5" width="2.5" height="4.4" fill="#FF2B2B"/>
<path d="M703.9,394.4V398.7" stroke="#29B09D" stroke-width="1.3"/><rect x="702.6" y="394.4" width="2.5" height="4.3" fill="#29B09D"/>
<path d="M706.1,395.4V398.7" stroke="#29B09D" stroke-width="1.3"/><rect x="704.9" y="395.4" width="2.5" height="3.3" fill="#29B09D"/>
<path d="M710.8,401.2V409.3" stroke="#FF2B2B" stroke-width="1.3"/><rect x="709.5" y="401.2" width="2.5" height="8.1" fill="#FF2B2B"/>
<path d="M713.3,406.2V413.7" stroke="#29B09D" stroke-width="1.3"/><rect x="712.0" y="406.2" width="2.5" height="7.5" fill="#29B09D"/>
<path d="M720.0,402.5V409.9" stroke="#29B09D" stroke-width="1.3"/><rect x="718.8" y="402.5" width="2.5" height="7.4" fill="#29B09D"/>
<path d="M722.9,406.8V410.6" stroke="#FF2B2B" stroke-width="1.3"/><rect x="721.6" y="406.8" width="2.5" height="3.8" fill="#FF2B2B"/>
<path d="M725.0,405.6V409.9" stroke="#FF2B2B" stroke-width="1.3"/><rect x="723.8" y="405.6" width="2.5" height="4.3" fill="#FF2B2B"/>
<path d="M727.2,401.2V410.6" stroke="#FF2B2B" stroke-width="1.3"/><rect x="726.0" y="401.2" width="2.5" height="9.4" fill="#FF2B2B"/>
<path d="M729.7,408.1V413.0" stroke="#FF2B2B" stroke-width="1.3"/><rect x="728.5" y="408.1" width="2.5" height="4.9" fill="#FF2B2B"/>
<path d="M736.6,403.1V407.4" stroke="#29B09D" stroke-width="1.3"/><rect x="735.4" y="403.1" width="2.5" height="4.3" fill="#29B09D"/>
<path d="M739.1,401.9V405.0" stroke="#29B09D" stroke-width="1.3"/><rect x="737.9" y="401.9" width="2.5" height="3.1" fill="#29B09D"/>
<path d="M740.9,400.9V403.1" stroke="#29B09D" stroke-width="1.3"/><rect x="739.6" y="400.9" width="2.5" height="2.2" fill="#29B09D"/>
<path d="M745.9,399.6V402.1" stroke="#29B09D" stroke-width="1.3"/><rect x="744.6" y="399.6" width="2.5" height="2.5" fill="#29B09D"/>
<path d="M753.1,399.6V402.5" stroke="#29B09D" stroke-width="1.3"/><rect x="751.9" y="399.6" width="2.5" height="2.9" fill="#29B09D"/>
<path d="M755.2,398.1V401.2" stroke="#FF2B2B" stroke-width="1.3"/><rect x="754.0" y="398.1" width="2.5" height="3.1" fill="#FF2B2B"/>
<path d="M757.1,394.4V398.7" stroke="#29B09D" stroke-width="1.3"/><rect x="755.9" y="394.4" width="2.5" height="4.3" fill="#29B09D"/>
<path d="M759.8,392.5V395.0" stroke="#29B09D" stroke-width="1.3"/><rect x="758.5" y="392.5" width="2.5" height="2.5" fill="#29B09D"/>
<path d="M762.1,391.9V394.1" stroke="#29B09D" stroke-width="1.3"/><rect x="760.9" y="391.9" width="2.5" height="2.2" fill="#29B09D"/>
<path d="M768.9,393.1V398.1" stroke="#FF2B2B" stroke-width="1.3"/><rect x="767.6" y="393.1" width="2.5" height="5.0" fill="#FF2B2B"/>
<path d="M771.4,393.8V398.1" stroke="#29B09D" stroke-width="1.3"/><rect x="770.1" y="393.8" width="2.5" height="4.3" fill="#29B09D"/>
<path d="M773.9,392.5V396.3" stroke="#29B09D" stroke-width="1.3"/><rect x="772.6" y="392.5" width="2.5" height="3.8" fill="#29B09D"/>
<path d="M776.0,393.8V396.9" stroke="#FF2B2B" stroke-width="1.3"/><rect x="774.8" y="393.8" width="2.5" height="3.1" fill="#FF2B2B"/>
<path d="M778.5,390.7V395.0" stroke="#29B09D" stroke-width="1.3"/><rect x="777.2" y="390.7" width="2.5" height="4.3" fill="#29B09D"/>
<path d="M785.4,385.1V389.4" stroke="#29B09D" stroke-width="1.3"/><rect x="784.1" y="385.1" width="2.5" height="4.3" fill="#29B09D"/>
<path d="M787.6,382.2V389.4" stroke="#29B09D" stroke-width="1.3"/><rect x="786.4" y="382.2" width="2.5" height="7.2" fill="#29B09D"/>
<path d="M790.0,381.7V389.4" stroke="#FF2B2B" stroke-width="1.3"/><rect x="788.8" y="381.7" width="2.5" height="7.7" fill="#FF2B2B"/>
<path d="M792.5,383.8V387.5" stroke="#29B09D" stroke-width="1.3"/><rect x="791.2" y="383.8" width="2.5" height="3.7" fill="#29B09D"/>
<path d="M795.2,381.0V385.5" stroke="#FF2B2B" stroke-width="1.3"/><rect x="794.0" y="381.0" width="2.5" height="4.5" fill="#FF2B2B"/>
<path d="M802.1,379.2V383.3" stroke="#FF2B2B" stroke-width="1.3"/><rect x="800.8" y="382.1" width="2.5" height="1.8" fill="#FF2B2B"/>
<path d="M804.4,381.2V384.0" stroke="#FF2B2B" stroke-width="1.3"/><rect x="803.2" y="382.1" width="2.5" height="1.8" fill="#FF2B2B"/>
<path d="M806.7,381.5V385.9" stroke="#FF2B2B" stroke-width="1.3"/><rect x="805.5" y="382.2" width="2.5" height="1.8" fill="#FF2B2B"/>
<path d="M811.4,382.1V386.7" stroke="#FF2B2B" stroke-width="1.3"/><rect x="810.2" y="383.2" width="2.5" height="3.1" fill="#FF2B2B"/>
<path d="M818.3,387.9V391.3" stroke="#FF2B2B" stroke-width="1.3"/><rect x="817.1" y="388.1" width="2.5" height="3.0" fill="#FF2B2B"/>
<path d="M820.7,389.9V392.6" stroke="#FF2B2B" stroke-width="1.3"/><rect x="819.4" y="390.5" width="2.5" height="2.0" fill="#FF2B2B"/>
<path d="M823.0,391.7V394.2" stroke="#FF2B2B" stroke-width="1.3"/><rect x="821.8" y="392.0" width="2.5" height="2.1" fill="#FF2B2B"/>
<path d="M827.6,391.3V398.2" stroke="#FF2B2B" stroke-width="1.3"/><rect x="826.4" y="391.5" width="2.5" height="6.0" fill="#FF2B2B"/>
<path d="M834.6,391.7V395.7" stroke="#29B09D" stroke-width="1.3"/><rect x="833.4" y="393.5" width="2.5" height="1.8" fill="#29B09D"/>
<path d="M836.9,394.3V400.3" stroke="#FF2B2B" stroke-width="1.3"/><rect x="835.7" y="394.9" width="2.5" height="4.5" fill="#FF2B2B"/>
<path d="M839.3,397.5V399.8" stroke="#FF2B2B" stroke-width="1.3"/><rect x="838.0" y="398.2" width="2.5" height="1.8" fill="#FF2B2B"/>
<path d="M841.6,397.8V401.6" stroke="#29B09D" stroke-width="1.3"/><rect x="840.3" y="398.2" width="2.5" height="2.5" fill="#29B09D"/>
<path d="M843.9,394.1V399.9" stroke="#29B09D" stroke-width="1.3"/><rect x="842.7" y="395.4" width="2.5" height="2.9" fill="#29B09D"/>
<path d="M850.9,392.7V397.5" stroke="#29B09D" stroke-width="1.3"/><rect x="849.6" y="394.2" width="2.5" height="2.5" fill="#29B09D"/>
<path d="M853.2,393.7V395.7" stroke="#FF2B2B" stroke-width="1.3"/><rect x="852.0" y="393.9" width="2.5" height="1.8" fill="#FF2B2B"/>
<path d="M855.6,395.8V398.5" stroke="#FF2B2B" stroke-width="1.3"/><rect x="854.3" y="396.0" width="2.5" height="1.8" fill="#FF2B2B"/>
<path d="M857.9,395.5V397.7" stroke="#FF2B2B" stroke-width="1.3"/><rect x="856.7" y="396.5" width="2.5" height="1.8" fill="#FF2B2B"/>
<path d="M860.2,394.9V398.3" stroke="#FF2B2B" stroke-width="1.3"/><rect x="859.0" y="397.0" width="2.5" height="1.8" fill="#FF2B2B"/>
<path d="M869.5,399.9V403.6" stroke="#FF2B2B" stroke-width="1.3"/><rect x="868.2" y="400.2" width="2.5" height="3.0" fill="#FF2B2B"/>
<path d="M871.8,397.7V403.1" stroke="#29B09D" stroke-width="1.3"/><rect x="870.5" y="399.6" width="2.5" height="3.1" fill="#29B09D"/>
<path d="M874.1,393.8V398.9" stroke="#29B09D" stroke-width="1.3"/><rect x="872.9" y="394.2" width="2.5" height="4.2" fill="#29B09D"/>
<path d="M876.5,393.3V395.7" stroke="#29B09D" stroke-width="1.3"/><rect x="875.2" y="394.2" width="2.5" height="1.8" fill="#29B09D"/>
<path d="M883.4,395.2V398.6" stroke="#FF2B2B" stroke-width="1.3"/><rect x="882.2" y="395.6" width="2.5" height="2.8" fill="#FF2B2B"/>
<path d="M885.7,397.5V399.9" stroke="#FF2B2B" stroke-width="1.3"/><rect x="884.5" y="397.8" width="2.5" height="1.9" fill="#FF2B2B"/>
<path d="M888.0,397.5V399.7" stroke="#FF2B2B" stroke-width="1.3"/><rect x="886.8" y="399.3" width="2.5" height="1.8" fill="#FF2B2B"/>
<path d="M890.4,397.1V404.4" stroke="#FF2B2B" stroke-width="1.3"/><rect x="889.1" y="397.6" width="2.5" height="6.6" fill="#FF2B2B"/>
<path d="M892.7,397.1V402.2" stroke="#29B09D" stroke-width="1.3"/><rect x="891.5" y="399.9" width="2.5" height="1.8" fill="#29B09D"/>
<path d="M899.7,400.8V404.7" stroke="#29B09D" stroke-width="1.3"/><rect x="898.4" y="402.3" width="2.5" height="1.8" fill="#29B09D"/>
<path d="M902.0,400.4V405.0" stroke="#FF2B2B" stroke-width="1.3"/><rect x="900.7" y="401.7" width="2.5" height="1.8" fill="#FF2B2B"/>
<path d="M904.3,401.7V409.2" stroke="#FF2B2B" stroke-width="1.3"/><rect x="903.1" y="402.7" width="2.5" height="4.5" fill="#FF2B2B"/>
<path d="M906.6,408.5V412.7" stroke="#29B09D" stroke-width="1.3"/><rect x="905.4" y="409.8" width="2.5" height="1.8" fill="#29B09D"/>
<path d="M909.0,404.7V409.4" stroke="#29B09D" stroke-width="1.3"/><rect x="907.7" y="405.7" width="2.5" height="3.1" fill="#29B09D"/>
<path d="M915.9,402.6V406.8" stroke="#29B09D" stroke-width="1.3"/><rect x="914.7" y="403.8" width="2.5" height="2.3" fill="#29B09D"/>
<path d="M918.3,400.8V403.7" stroke="#29B09D" stroke-width="1.3"/><rect x="917.0" y="401.5" width="2.5" height="2.0" fill="#29B09D"/>
<path d="M920.6,398.0V402.9" stroke="#29B09D" stroke-width="1.3"/><rect x="919.3" y="400.3" width="2.5" height="1.8" fill="#29B09D"/>
<path d="M922.9,398.0V404.8" stroke="#FF2B2B" stroke-width="1.3"/><rect x="921.7" y="399.9" width="2.5" height="4.0" fill="#FF2B2B"/>
<path d="M925.3,401.7V406.0" stroke="#29B09D" stroke-width="1.3"/><rect x="924.0" y="403.8" width="2.5" height="1.8" fill="#29B09D"/>
<path d="M934.6,405.0V408.9" stroke="#FF2B2B" stroke-width="1.3"/><rect x="933.3" y="405.3" width="2.5" height="1.8" fill="#FF2B2B"/>
<path d="M936.9,404.0V406.0" stroke="#29B09D" stroke-width="1.3"/><rect x="935.6" y="405.6" width="2.5" height="1.8" fill="#29B09D"/>
<path d="M939.2,404.3V407.8" stroke="#29B09D" stroke-width="1.3"/><rect x="937.9" y="405.6" width="2.5" height="1.8" fill="#29B09D"/>
<path d="M941.5,404.7V407.5" stroke="#29B09D" stroke-width="1.3"/><rect x="940.3" y="405.7" width="2.5" height="1.8" fill="#29B09D"/>
<path d="M948.5,406.6V410.9" stroke="#FF2B2B" stroke-width="1.3"/><rect x="947.2" y="406.9" width="2.5" height="2.2" fill="#FF2B2B"/>
<path d="M950.8,405.7V409.6" stroke="#29B09D" stroke-width="1.3"/><rect x="949.5" y="406.3" width="2.5" height="2.8" fill="#29B09D"/>
<path d="M953.1,403.1V405.6" stroke="#29B09D" stroke-width="1.3"/><rect x="951.9" y="404.5" width="2.5" height="1.8" fill="#29B09D"/>
<path d="M608.6,384.0h3.2M614.6,384.0h3.2" stroke="#FF2B2B" stroke-width="1"/>
<path d="M148.46,463.70H159.54L154.00,456.50Z" fill="#008000"/>
<path d="M196.76,465.30H207.84L202.30,458.10Z" fill="#008000"/>
<path d="M227.46,463.20H238.54L233.00,456.00Z" fill="#008000"/>
<path d="M232.26,457.50H243.34L237.80,450.30Z" fill="#008000"/>
<path d="M244.06,448.50H255.14L249.60,441.30Z" fill="#008000"/>
<path d="M264.66,448.70H275.74L270.20,441.50Z" fill="#008000"/>
<path d="M276.26,437.60H287.34L281.80,430.40Z" fill="#008000"/>
<path d="M325.26,430.50H336.34L330.80,423.30Z" fill="#008000"/>
<path d="M327.66,434.70H338.74L333.20,427.50Z" fill="#008000"/>
<path d="M332.36,444.90H343.44L337.90,437.70Z" fill="#008000"/>
<path d="M329.86,450.40H340.94L335.40,443.20Z" fill="#008000"/>
<path d="M339.36,447.90H350.44L344.90,440.70Z" fill="#008000"/>
<path d="M348.56,438.80H359.64L354.10,431.60Z" fill="#008000"/>
<path d="M371.86,434.70H382.94L377.40,427.50Z" fill="#008000"/>
<path d="M411.96,442.90H423.04L417.50,435.70Z" fill="#008000"/>
<path d="M430.16,436.30H441.24L435.70,429.10Z" fill="#008000"/>
<path d="M446.36,440.50H457.44L451.90,433.30Z" fill="#008000"/>
<path d="M474.76,440.80H485.84L480.30,433.60Z" fill="#008000"/>
<path d="M511.86,437.10H522.94L517.40,429.90Z" fill="#008000"/>
<path d="M542.26,433.30H553.34L547.80,426.10Z" fill="#008000"/>
<path d="M558.46,428.80H569.54L564.00,421.60Z" fill="#008000"/>
<path d="M602.76,404.00H613.84L608.30,396.80Z" fill="#008000"/>
<path d="M642.36,406.50H653.44L647.90,399.30Z" fill="#008000"/>
<path d="M656.26,409.40H667.34L661.80,402.20Z" fill="#008000"/>
<path d="M731.06,413.10H742.14L736.60,405.90Z" fill="#008000"/>
<path d="M751.86,404.50H762.94L757.40,397.30Z" fill="#008000"/>
<path d="M772.86,401.50H783.94L778.40,394.30Z" fill="#008000"/>
<path d="M805.16,392.00H816.24L810.70,384.80Z" fill="#008000"/>
<path d="M812.76,396.40H823.84L818.30,389.20Z" fill="#008000"/>
<path d="M815.46,398.60H826.54L821.00,391.40Z" fill="#008000"/>
<path d="M821.86,403.20H832.94L827.40,396.00Z" fill="#008000"/>
<path d="M835.86,406.60H846.94L841.40,399.40Z" fill="#008000"/>
<path d="M863.86,408.40H874.94L869.40,401.20Z" fill="#008000"/>
<path d="M903.36,414.60H914.44L908.90,407.40Z" fill="#008000"/>
<path d="M945.36,414.60H956.44L950.90,407.40Z" fill="#008000"/>
<path d="M117.96,443.00H129.04L123.50,450.20Z" fill="#FF0000"/>
<path d="M127.06,449.20H138.14L132.60,456.40Z" fill="#FF0000"/>
<path d="M134.56,450.90H145.64L140.10,458.10Z" fill="#FF0000"/>
<path d="M144.06,451.60H155.14L149.60,458.80Z" fill="#FF0000"/>
<path d="M164.76,440.00H175.84L170.30,447.20Z" fill="#FF0000"/>
<path d="M169.36,442.30H180.44L174.90,449.50Z" fill="#FF0000"/>
<path d="M185.46,447.10H196.54L191.00,454.30Z" fill="#FF0000"/>
<path d="M195.06,450.40H206.14L200.60,457.60Z" fill="#FF0000"/>
<path d="M208.66,446.60H219.74L214.20,453.80Z" fill="#FF0000"/>
<path d="M213.96,449.60H225.04L219.50,456.80Z" fill="#FF0000"/>
<path d="M257.76,440.00H268.84L263.30,447.20Z" fill="#FF0000"/>
<path d="M358.06,426.70H369.14L363.60,433.90Z" fill="#FF0000"/>
<path d="M409.16,435.10H420.24L414.70,442.30Z" fill="#FF0000"/>
<path d="M423.26,428.80H434.34L428.80,436.00Z" fill="#FF0000"/>
<path d="M443.96,432.20H455.04L449.50,439.40Z" fill="#FF0000"/>
<path d="M472.26,431.30H483.34L477.80,438.50Z" fill="#FF0000"/>
<path d="M551.66,417.20H562.74L557.20,424.40Z" fill="#FF0000"/>
<path d="M586.66,392.40H597.74L592.20,399.60Z" fill="#FF0000"/>
<path d="M625.96,391.50H637.04L631.50,398.70Z" fill="#FF0000"/>
<path d="M639.86,392.40H650.94L645.40,399.60Z" fill="#FF0000"/>
<path d="M689.16,384.10H700.24L694.70,391.30Z" fill="#FF0000"/>
<path d="M702.76,391.50H713.84L708.30,398.70Z" fill="#FF0000"/>
<path d="M763.76,389.50H774.84L769.30,396.70Z" fill="#FF0000"/>
<path d="M789.16,377.10H800.24L794.70,384.30Z" fill="#FF0000"/>
<path d="M830.96,389.60H842.04L836.50,396.80Z" fill="#FF0000"/>
<path d="M878.06,390.90H889.14L883.60,398.10Z" fill="#FF0000"/>
<path d="M896.06,396.00H907.14L901.60,403.20Z" fill="#FF0000"/>
<path d="M917.26,393.30H928.34L922.80,400.50Z" fill="#FF0000"/>
<path d="M943.16,402.40H954.24L948.70,409.60Z" fill="#FF0000"/>
</g>
<rect x="71.0" y="371.9" width="724.9" height="97.8" fill="#000" fill-opacity="0.4"/>
<rect x="981.2" y="371.9" width="22.8" height="97.8" fill="#000" fill-opacity="0.4"/>
<rect x="793.6" y="397.6" width="3.1" height="48.4" rx="0.9" fill="#fff" stroke="#555" stroke-width="0.9"/>
<rect x="980.2" y="397.6" width="3.1" height="48.4" rx="0.9" fill="#fff" stroke="#555" stroke-width="0.9"/>
<text x="435.3" y="386.9" font-size="12.2" fill="#898da6" stroke="#898da6" stroke-width="0.22" textLength="205" lengthAdjust="spacingAndGlyphs">Portfolio Equity &amp; Confidence Intervals</text>
<path d="M70.9,484.2L102,490.6L125.1,492.4L148.5,509.3L184.1,497.8L195.8,481.2L207.7,481.7L230.8,494.9L290,495.0L371.6,495.3L395,481.4L441,477.9L452.9,489.6L547,490.1L558.7,484.9" fill="none" stroke="#0000FF" stroke-width="1.6" stroke-linejoin="round"/>
<path d="M71.0,588.9H1004.0" stroke="#808080" stroke-width="1.6" stroke-dasharray="7.2,7.2"/>
<text x="1001.3" y="583.9" font-size="9.3" fill="#787c8f" stroke="#787c8f" stroke-width="0.22" text-anchor="end" textLength="52.6" lengthAdjust="spacingAndGlyphs">Initial Capital</text>
<path d="M71.0,676.9H1004.0" stroke="#FFA500" stroke-width="1.6" stroke-dasharray="7.2,7.2"/>
<text x="1001.3" y="672.0" font-size="9.3" fill="#787c8f" stroke="#787c8f" stroke-width="0.22" text-anchor="end" textLength="86.4" lengthAdjust="spacingAndGlyphs">Min Confidence (70%)</text>
<circle cx="148.7" cy="669.3" r="3.9" fill="#008000"/>
<circle cx="183.7" cy="669.3" r="3.9" fill="#008000"/>
<circle cx="195.5" cy="669.3" r="3.9" fill="#008000"/>
<circle cx="207.3" cy="669.3" r="3.9" fill="#008000"/>
<circle cx="230.6" cy="669.3" r="3.9" fill="#008000"/>
<circle cx="277.5" cy="669.3" r="3.9" fill="#FF0000"/>
<circle cx="300.9" cy="669.3" r="3.9" fill="#008000"/>
<circle cx="441.4" cy="669.3" r="3.9" fill="#008000"/>
<circle cx="511.8" cy="669.3" r="3.9" fill="#FF0000"/>
<circle cx="605.5" cy="669.3" r="3.9" fill="#FF0000"/>
<circle cx="640.7" cy="676.9" r="3.9" fill="#008000"/>
<circle cx="711.0" cy="669.3" r="3.9" fill="#FF0000"/>
<circle cx="839.8" cy="669.3" r="3.9" fill="#FF0000"/>
<circle cx="851.5" cy="669.3" r="3.9" fill="#008000"/>
<path d="M1032.46,138.00H1043.54L1038.00,130.80Z" fill="#008000"/>
<text x="1054.1" y="139.0" font-size="9.3" fill="#31333F" stroke="#31333F" stroke-width="0.22" textLength="87.1" lengthAdjust="spacingAndGlyphs">Buy (Pattern Forming)</text>
<path d="M1032.46,148.10H1043.54L1038.00,155.30Z" fill="#FF0000"/>
<text x="1054.1" y="154.6" font-size="9.3" fill="#31333F" stroke="#31333F" stroke-width="0.22" textLength="86.8" lengthAdjust="spacingAndGlyphs">Sell (Pattern Forming)</text>
<path d="M1025.8,165.9H1049.6" stroke="#0000FF" stroke-width="1.6"/>
<text x="1054.1" y="169.8" font-size="9.3" fill="#31333F" stroke="#31333F" stroke-width="0.22" textLength="130" lengthAdjust="spacingAndGlyphs">Progressive Candlestick Patterns</text>
<circle cx="1037.7" cy="181.1" r="4" fill="#008000"/>
<text x="1054.1" y="184.9" font-size="9.3" fill="#31333F" stroke="#31333F" stroke-width="0.22" textLength="61.9" lengthAdjust="spacingAndGlyphs">Bullish Patterns</text>
<circle cx="1037.7" cy="196.3" r="4" fill="#FF0000"/>
<text x="1054.1" y="200.1" font-size="9.3" fill="#31333F" stroke="#31333F" stroke-width="0.22" textLength="64.6" lengthAdjust="spacingAndGlyphs">Bearish Patterns</text>
<path transform="translate(1016.9,51.1) scale(0.0128) matrix(1 0 0 -1 0 850)" d="m500 450c-83 0-150-67-150-150 0-83 67-150 150-150 83 0 150 67 150 150 0 83-67 150-150 150z m400 150h-120c-16 0-34 13-39 29l-31 93c-6 15-23 28-40 28h-340c-16 0-34-13-39-28l-31-94c-6-15-23-28-40-28h-120c-55 0-100-45-100-100v-450c0-55 45-100 100-100h800c55 0 100 45 100 100v450c0 55-45 100-100 100z m-400-550c-138 0-250 112-250 250 0 138 112 250 250 250 138 0 250-112 250-250 0-138-112-250-250-250z m365 380c-19 0-35 16-35 35 0 19 16 35 35 35 19 0 35-16 35-35 0-19-16-35-35-35z" fill="#cfcfcf"/>
<path transform="translate(1042.6,51.1) scale(0.0128) matrix(1 0 0 -1 0 850)" d="m1000-25l-250 251c40 63 63 138 63 218 0 224-182 406-407 406-224 0-406-182-406-406s183-406 407-406c80 0 155 22 218 62l250-250 125 125z m-812 250l0 438 437 0 0-438-437 0z m62 375l313 0 0-312-313 0 0 312z" fill="#747474"/>
<path transform="translate(1062.2,51.1) scale(0.0128) matrix(1 0 0 -1 0 850)" d="m1000 350l-187 188 0-125-250 0 0 250 125 0-188 187-187-187 125 0 0-250-250 0 0 125-188-188 186-187 0 125 252 0 0-250-125 0 187-188 188 188-125 0 0 250 250 0 0-126 187 188z" fill="#cfcfcf"/>
<path transform="translate(1088.0,51.1) scale(0.0128) matrix(1 0 0 -1 0 850)" d="m1 787l0-875 875 0 0 875-875 0z m687-500l-187 0 0-187-125 0 0 187-188 0 0 125 188 0 0 187 125 0 0-187 187 0 0-125z" fill="#cfcfcf"/>
<path transform="translate(1107.8,51.1) scale(0.0128) matrix(1 0 0 -1 0 850)" d="m0 788l0-876 875 0 0 876-875 0z m688-500l-500 0 0 125 500 0 0-125z" fill="#cfcfcf"/>
<path transform="translate(1125.8,51.1) scale(0.0128) matrix(1 0 0 -1 0 850)" d="m250 850l-187 0-63 0 0-62 0-188 63 0 0 188 187 0 0 62z m688 0l-188 0 0-62 188 0 0-188 62 0 0 188 0 62-62 0z m-875-938l0 188-63 0 0-188 0-62 63 0 187 0 0 62-187 0z m875 188l0-188-188 0 0-62 188 0 62 0 0 62 0 188-62 0z m-125 188l-1 0-93-94-156 156 156 156 92-93 2 0 0 250-250 0 0-2 93-92-156-156-156 156 94 92 0 2-250 0 0-250 0 0 93 93 157-156-157-156-93 94 0 0 0-250 250 0 0 0-94 93 156 157 156-157-93-93 0 0 250 0 0 250z" fill="#cfcfcf"/>
<path transform="translate(1145.6,51.1) scale(0.0128) matrix(1 0 0 -1 0 850)" d="m786 296v-267q0-15-11-26t-25-10h-214v214h-143v-214h-214q-15 0-25 10t-11 26v267q0 1 0 2t0 2l321 264 321-264q1-1 1-4z m124 39l-34-41q-5-5-12-6h-2q-7 0-12 3l-386 322-386-322q-7-4-13-4-7 2-12 7l-35 41q-4 5-3 13t6 12l401 334q18 15 42 15t43-15l136-114v109q0 8 5 13t13 5h107q8 0 13-5t5-13v-227l122-102q5-5 6-12t-4-13z" fill="#cfcfcf"/>
<path d="M1170.4,56.2V53.4H1173.2M1176.6,53.4H1179.4V56.2M1179.4,59.6V62.4H1176.6M1173.2,62.4H1170.4V59.6" fill="none" stroke="#cbccd0" stroke-width="1.2"/>
</svg>
</body></html>
